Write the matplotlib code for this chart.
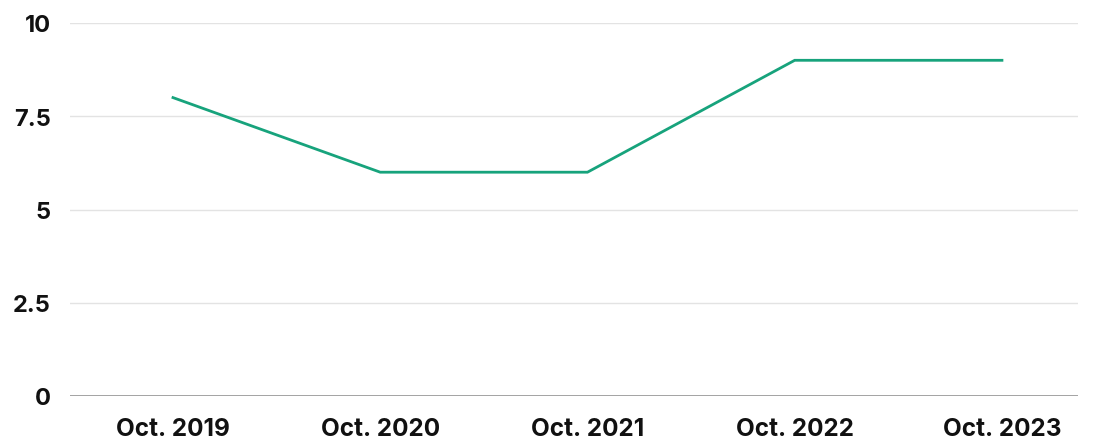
import matplotlib.pyplot as plt

# data
labels = ["Oct. 2019", "Oct. 2020", "Oct. 2021", "Oct. 2022", "Oct. 2023"]
values = [8, 6, 6, 9, 9]
yticks = [0, 2.5, 5, 7.5, 10]
ytick_labels = ["0", "2.5", "5", "7.5", "10"]

plt.rcParams['font.family'] = ['Inter', 'Liberation Sans', 'DejaVu Sans']

fig = plt.figure(figsize=(10.97, 4.39), dpi=100)
ax = fig.add_axes([70 / 1097, 1 - 397 / 439, (1078 - 70) / 1097, (397 - 24) / 439])

x = list(range(len(labels)))
ax.plot(x, values, color="#17a37c", lw=2, solid_joinstyle="miter", zorder=3)

ax.set_xlim(-0.497, 4.367)
ax.set_ylim(0, 10)

ax.set_yticks(yticks)
ax.set_yticklabels(ytick_labels)
ax.tick_params(axis="y", length=0, pad=14, labelsize=17)
ax.set_xticks(x)
ax.set_xticklabels(labels)
ax.tick_params(axis="x", length=0, pad=15, labelsize=17.5)
for t in ax.get_xticklabels() + ax.get_yticklabels():
    t.set_fontweight("bold")
    t.set_color("#111111")

for y in yticks[1:]:
    ax.axhline(y, color="#e3e3e3", lw=1, zorder=1)
ax.axhline(0, color="#9a9a9a", lw=2, zorder=2)

for s in ax.spines.values():
    s.set_visible(False)

fig.savefig("out.png", dpi=100)
